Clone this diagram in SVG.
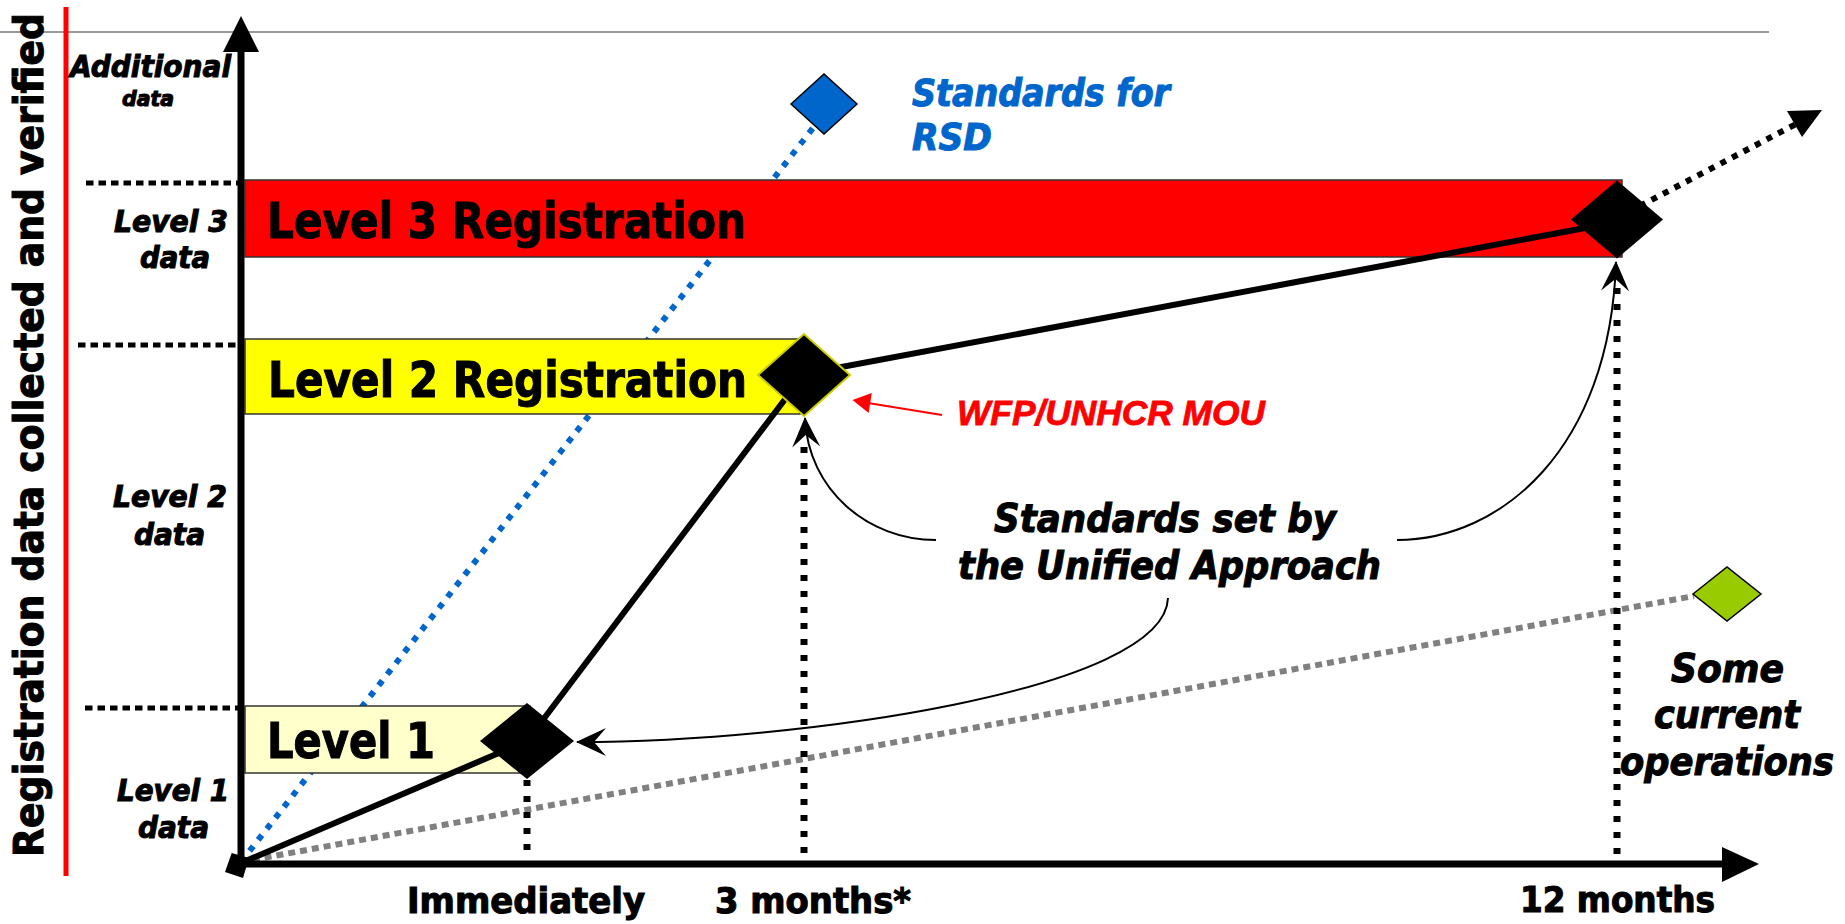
<svg xmlns="http://www.w3.org/2000/svg" width="1845" height="924" viewBox="0 0 1845 924">
<style>
.t{font-family:"DejaVu Sans Condensed","DejaVu Sans",sans-serif;font-weight:bold;fill:#000;stroke:#000;stroke-width:1}
.it{font-family:"DejaVu Sans Condensed","DejaVu Sans",sans-serif;font-weight:bold;font-style:italic;fill:#000;stroke:#000;stroke-width:1}
.blue{fill:#0066CC;stroke:#0066CC}
.hdot{stroke:#000;stroke-width:5;stroke-dasharray:7.5 5;fill:none}
.vdot{stroke:#000;stroke-width:7;stroke-dasharray:6 10;fill:none}
.solid{stroke:#000;stroke-width:6;fill:none;stroke-linejoin:round}
.curve{stroke:#000;stroke-width:2;fill:none;marker-end:url(#stealth)}
.bar{stroke:#333;stroke-width:1.5}
.dia{fill:#000}
</style>
<defs>
<marker id="stealth" markerUnits="userSpaceOnUse" viewBox="0 0 30 28" markerWidth="30" markerHeight="28" refX="29" refY="14" orient="auto">
<path d="M0,0 L30,14 L0,28 L12,14 Z" fill="#000"/>
</marker>
</defs>
<rect width="1845" height="924" fill="#fff"/>
<line x1="0" y1="32" x2="1769" y2="32" stroke="#999" stroke-width="2"/>
<line x1="66" y1="7" x2="66" y2="876" stroke="#f00" stroke-width="5"/>

<g id="connectors-back">
<line x1="241" y1="862" x2="813" y2="128" stroke="#0066CC" stroke-width="6" stroke-dasharray="6 8"/>
<line x1="241" y1="862" x2="1694" y2="596" stroke="#808080" stroke-width="6" stroke-dasharray="7 5"/>
</g>

<g id="level3-bar"><rect class="bar" x="245" y="180" width="1377" height="77" fill="#f00"/><text class="t" x="267" y="238" font-size="50" textLength="479" lengthAdjust="spacingAndGlyphs">Level 3 Registration</text></g>
<g id="level2-bar"><rect class="bar" x="245" y="339" width="555" height="75" fill="#ff0"/><text class="t" x="268" y="397" font-size="50" textLength="479" lengthAdjust="spacingAndGlyphs">Level 2 Registration</text></g>
<g id="level1-bar"><rect class="bar" x="245" y="706" width="285" height="67" fill="#ffc"/><text class="t" x="267" y="758" font-size="50" textLength="168" lengthAdjust="spacingAndGlyphs">Level 1</text></g>

<g id="axes">
<line x1="241" y1="50" x2="241" y2="866" stroke="#000" stroke-width="7"/>
<polygon points="241,16 223,52 259,52" fill="#000"/>
<line x1="238" y1="864" x2="1724" y2="864" stroke="#000" stroke-width="7"/>
<polygon points="1759,864 1722,847 1722,882" fill="#000"/>
<polygon points="231.7,853 249,858 243,878 225,872" fill="#000"/>
</g>

<g id="guides">
<line class="hdot" x1="86" y1="183" x2="238" y2="183"/>
<line class="hdot" x1="78" y1="345" x2="238" y2="345"/>
<line class="hdot" x1="85" y1="708" x2="238" y2="708"/>
<line class="vdot" x1="527" y1="780" x2="527" y2="860"/>
<line class="vdot" x1="804" y1="447" x2="804" y2="860"/>
<line class="vdot" x1="1617" y1="288" x2="1617" y2="860"/>
</g>

<g id="connectors">
<polyline class="solid" points="241,863 527,741 804,374 1617,222"/>
<line x1="1617" y1="218" x2="1796" y2="124" stroke="#000" stroke-width="6" stroke-dasharray="6 7"/>
<polygon points="1822,110 1787,111 1802,137" fill="#000"/>
<path class="curve" d="M936,540 C868,540 808,490 805,418"/>
<path class="curve" d="M1397,540 C1500,540 1610,450 1616,262"/>
<path class="curve" d="M1168,598 C1165,690 800,742 577,742"/>
<line x1="942" y1="415" x2="868" y2="403" stroke="#f00" stroke-width="2"/>
<polygon points="852.5,400 871.8,393.1 868.6,412.9" fill="#f00"/>
</g>

<g id="milestone-immediately"><polygon class="dia" points="480,741 527,703 574,741 527,779"/></g>
<g id="milestone-3months"><polygon class="dia" points="758,375 804,334 850,375 804,416" stroke="#cc0" stroke-width="2"/></g>
<g id="milestone-12months"><polygon class="dia" points="1571,219.5 1617,180.5 1663,219.5 1617,258.5"/></g>
<g id="rsd-diamond"><polygon points="791,104 824,74 857,104 824,134" fill="#0066CC" stroke="#000" stroke-width="1.5"/></g>
<g id="current-ops-diamond"><polygon points="1693,594 1727,567 1761,594 1727,621" fill="#99CC00" stroke="#000" stroke-width="1.5"/></g>

<g id="y-title"><text class="t" transform="translate(43,435) rotate(-90)" text-anchor="middle" font-size="41" textLength="844" lengthAdjust="spacingAndGlyphs">Registration data collected and verified</text></g>

<g id="y-labels">
<text class="it" x="70" y="77" font-size="31" textLength="161" lengthAdjust="spacingAndGlyphs">Additional</text>
<text class="it" x="122" y="106" font-size="22" textLength="52" lengthAdjust="spacingAndGlyphs">data</text>
<text class="it" x="114" y="232" font-size="30" textLength="114" lengthAdjust="spacingAndGlyphs">Level 3</text>
<text class="it" x="140" y="268" font-size="30" textLength="70" lengthAdjust="spacingAndGlyphs">data</text>
<text class="it" x="113" y="507" font-size="30" textLength="114" lengthAdjust="spacingAndGlyphs">Level 2</text>
<text class="it" x="134" y="545" font-size="30" textLength="71" lengthAdjust="spacingAndGlyphs">data</text>
<text class="it" x="117" y="801" font-size="30" textLength="112" lengthAdjust="spacingAndGlyphs">Level 1</text>
<text class="it" x="138" y="838" font-size="30" textLength="71" lengthAdjust="spacingAndGlyphs">data</text>
</g>

<g id="x-labels">
<text class="t" x="407" y="913" font-size="35" textLength="238" lengthAdjust="spacingAndGlyphs">Immediately</text>
<text class="t" x="715" y="913" font-size="35" textLength="196" lengthAdjust="spacingAndGlyphs">3 months*</text>
<text class="t" x="1520" y="912" font-size="35" textLength="195" lengthAdjust="spacingAndGlyphs">12 months</text>
</g>

<g id="rsd-label">
<text class="it blue" x="912" y="106" font-size="37" textLength="258" lengthAdjust="spacingAndGlyphs">Standards for</text>
<text class="it blue" x="912" y="150" font-size="37" textLength="80" lengthAdjust="spacingAndGlyphs">RSD</text>
</g>
<g id="mou-label"><text x="957" y="425" font-family="'Liberation Sans',Arial,sans-serif" font-weight="bold" font-style="italic" font-size="35" fill="#f00" stroke="#f00" stroke-width="0.8" textLength="308" lengthAdjust="spacingAndGlyphs">WFP/UNHCR MOU</text></g>
<g id="unified-label">
<text class="it" x="994" y="532" font-size="39" textLength="342" lengthAdjust="spacingAndGlyphs">Standards set by</text>
<text class="it" x="958" y="579" font-size="39" textLength="423" lengthAdjust="spacingAndGlyphs">the Unified Approach</text>
</g>
<g id="current-ops-label">
<text class="it" x="1671" y="682" font-size="39" textLength="113" lengthAdjust="spacingAndGlyphs">Some</text>
<text class="it" x="1654" y="728" font-size="39" textLength="146" lengthAdjust="spacingAndGlyphs">current</text>
<text class="it" x="1620" y="775" font-size="39" textLength="214" lengthAdjust="spacingAndGlyphs">operations</text>
</g>
</svg>
